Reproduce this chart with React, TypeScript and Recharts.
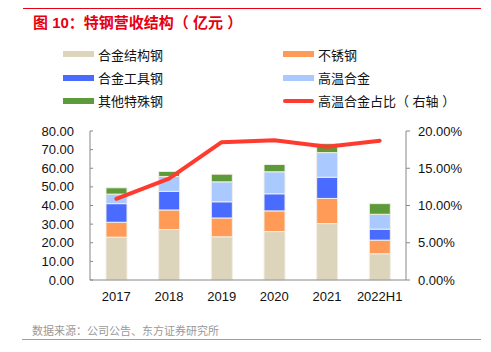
import React from 'react';
import { ComposedChart, Bar, Line, XAxis, YAxis } from 'recharts';

// 年份
const years = ['2017', '2018', '2019', '2020', '2021', '2022H1'];
// 各品种营收（亿元）
const alloyStructural = [23.0, 27.1, 23.2, 26.0, 30.3, 14.1];
const stainless = [8.0, 10.5, 10.1, 11.1, 13.5, 7.3];
const alloyTool = [10.0, 10.0, 8.7, 9.2, 11.4, 5.9];
const superalloy = [5.1, 8.0, 10.7, 11.8, 13.2, 8.0];
const otherSpecial = [3.4, 2.7, 4.1, 3.9, 4.8, 5.7];
// 高温合金占比（%）
const superalloyShare = [10.9, 13.6, 18.5, 18.75, 17.9, 18.7];

const leftTicks = [0, 10, 20, 30, 40, 50, 60, 70, 80];
const rightTicks = [0, 5, 10, 15, 20];

const data = years.map((name, i) => ({
  name,
  idx: i + 0.5,
  a: alloyStructural[i],
  b: stainless[i],
  c: alloyTool[i],
  d: superalloy[i],
  e: otherSpecial[i],
  share: superalloyShare[i],
}));

const legendItems = [
  { label: '合金结构钢', color: '#DDD4BC', x: 63, y: 54 },
  { label: '不锈钢', color: '#FF9B57', x: 283, y: 54 },
  { label: '合金工具钢', color: '#4A6BFF', x: 63, y: 77.5 },
  { label: '高温合金', color: '#A9C9FF', x: 283, y: 77.5 },
  { label: '其他特殊钢', color: '#5D9A3A', x: 63, y: 100.5 },
  { label: '高温合金占比（ 右轴 ）', color: '#FF3B30', x: 283, y: 100.5, line: true },
];

const font = '"Liberation Sans", Arial, "Noto Sans CJK SC", sans-serif';
const tickStyle = { fontSize: 13, fill: '#111', fontFamily: font };

export default function App() {
  return (
    <div style={{ position: 'absolute', left: 0, top: 0, width: 491, height: 352, background: '#fff', fontFamily: font }}>
      {/* 顶部红线和标题 */}
      <div style={{ position: 'absolute', left: 23, top: 8, width: 458, height: 1, background: '#E60012' }} />
      <div style={{ position: 'absolute', left: 33, top: 11, fontSize: 15, fontWeight: 'bold', color: '#E60012', whiteSpace: 'nowrap' }}>
        图 10：特钢营收结构（ 亿元 ）
      </div>

      {/* 图例 */}
      {legendItems.map((it) => (
        <div key={it.label} style={{ position: 'absolute', left: it.x, top: it.y - 9, height: 18, display: 'flex', alignItems: 'center', whiteSpace: 'nowrap' }}>
          <div style={{ width: 31, height: it.line ? 4 : 6, borderRadius: it.line ? 2 : 0, background: it.color }} />
          <span style={{ marginLeft: 4, fontSize: 13, color: '#111' }}>{it.label}</span>
        </div>
      ))}

      <ComposedChart width={491} height={352} data={data} margin={{ top: 131, right: 0, bottom: 42, left: 0 }}>
        {/* 类目之间的刻度线 */}
        <XAxis
          xAxisId="num"
          type="number"
          dataKey="idx"
          domain={[0, 6]}
          ticks={[0, 1, 2, 3, 4, 5, 6]}
          interval={0}
          axisLine={false}
          tickLine={{ stroke: '#888' }}
          tickSize={4}
          tick={false}
          height={0}
        />
        <XAxis
          xAxisId="cat"
          dataKey="name"
          interval={0}
          axisLine={{ stroke: '#888' }}
          tickLine={false}
          tickSize={0}
          tickMargin={12}
          tick={tickStyle}
          height={30}
        />
        <YAxis
          yAxisId="left"
          width={90}
          domain={[0, 80]}
          ticks={leftTicks}
          interval={0}
          tickFormatter={(v: number) => v.toFixed(2)}
          axisLine={{ stroke: '#888' }}
          tickLine={{ stroke: '#888' }}
          tickSize={-3}
          tickMargin={19}
          tick={tickStyle}
        />
        <YAxis
          yAxisId="right"
          orientation="right"
          width={85}
          domain={[0, 20]}
          ticks={rightTicks}
          interval={0}
          tickFormatter={(v: number) => v.toFixed(2) + '%'}
          axisLine={{ stroke: '#888' }}
          tickLine={{ stroke: '#888' }}
          tickSize={4}
          tickMargin={8}
          tick={{ ...tickStyle, textAnchor: 'start' }}
        />
        <Bar xAxisId="cat" yAxisId="left" dataKey="a" stackId="s" fill="#DDD4BC" stroke="#F2EEE4" strokeWidth={1} barSize={21} isAnimationActive={false} />
        <Bar xAxisId="cat" yAxisId="left" dataKey="b" stackId="s" fill="#FF9B57" stroke="#F2EEE4" strokeWidth={1} barSize={21} isAnimationActive={false} />
        <Bar xAxisId="cat" yAxisId="left" dataKey="c" stackId="s" fill="#4A6BFF" stroke="#F2EEE4" strokeWidth={1} barSize={21} isAnimationActive={false} />
        <Bar xAxisId="cat" yAxisId="left" dataKey="d" stackId="s" fill="#A9C9FF" stroke="#F2EEE4" strokeWidth={1} barSize={21} isAnimationActive={false} />
        <Bar xAxisId="cat" yAxisId="left" dataKey="e" stackId="s" fill="#5D9A3A" stroke="#F2EEE4" strokeWidth={1} barSize={21} isAnimationActive={false} />
        <Line
          xAxisId="cat"
          yAxisId="right"
          dataKey="share"
          type="linear"
          stroke="#FF3B30"
          strokeWidth={4}
          strokeLinecap="round"
          strokeLinejoin="round"
          dot={false}
          isAnimationActive={false}
        />
      </ComposedChart>

      {/* 数据来源与底线 */}
      <div style={{ position: 'absolute', left: 32, top: 322, fontSize: 11, color: '#999', whiteSpace: 'nowrap' }}>
        数据来源：公司公告、东方证券研究所
      </div>
      <div style={{ position: 'absolute', left: 22, top: 339, width: 459, height: 1, background: '#E88080' }} />
    </div>
  );
}
